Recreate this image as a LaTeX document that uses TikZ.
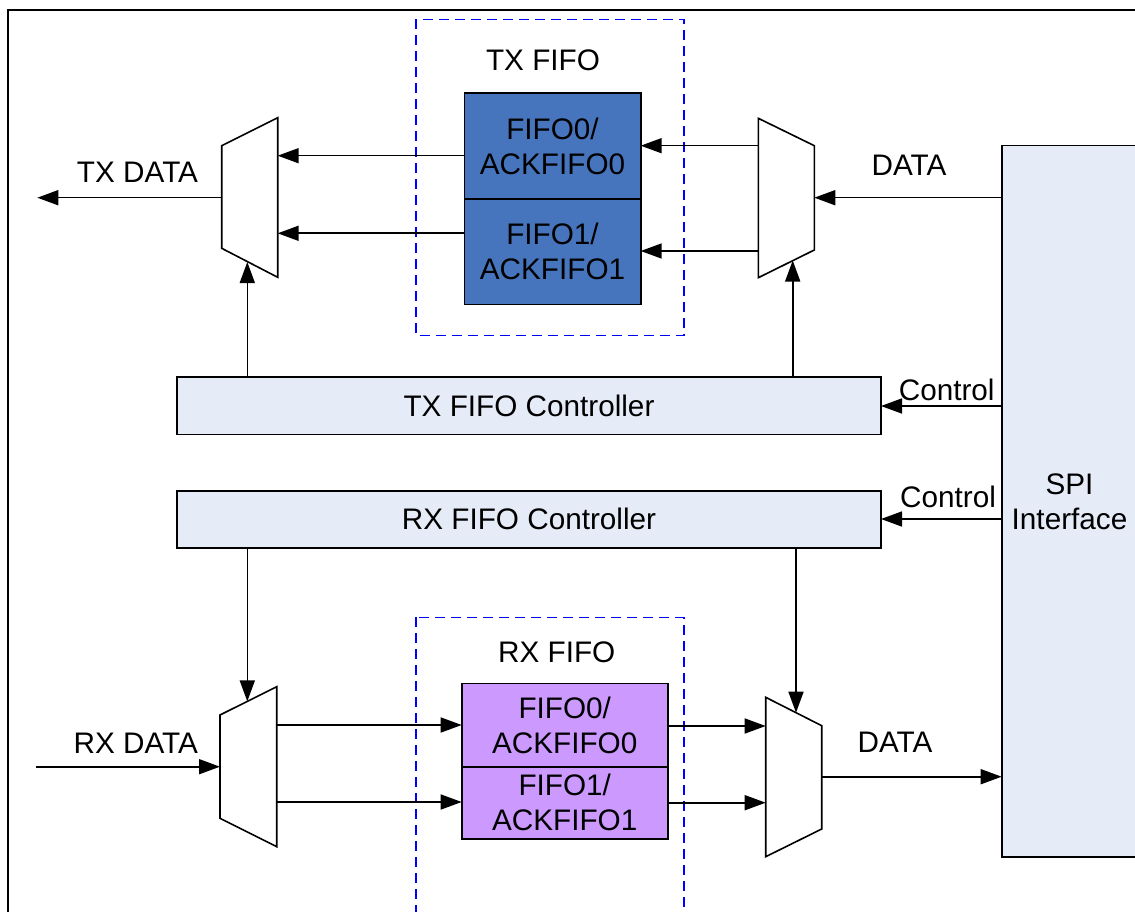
\documentclass[tikz,border=0pt]{standalone}
\usepackage{fontspec}
\setmainfont{Liberation Sans}
\usetikzlibrary{arrows.meta}
\definecolor{fifoblue}{HTML}{4775BD}
\definecolor{fifopurple}{HTML}{CC99FF}
\definecolor{ctrlfill}{HTML}{E6ECF7}
\definecolor{dashblue}{HTML}{0000FF}
\begin{document}
\begin{tikzpicture}[x=1pt,y=-1pt,
  txt/.style={font=\fontsize{29.7}{35}\selectfont, inner sep=0pt, outer sep=0pt},
  arr/.style={line width=1.6pt, -{Triangle[length=21pt,width=15pt]}},
  fifobox/.style={draw, line width=1.6pt, anchor=north west, inner sep=0pt, outer sep=0pt,
    align=center, font=\fontsize{29.7}{35}\selectfont},
  ctrlbox/.style={draw, line width=1.6pt, fill=ctrlfill, anchor=north west, inner sep=0pt,
    outer sep=0pt, minimum width=704pt, font=\fontsize{29.7}{35}\selectfont},
  muxshape/.style={draw, line width=1.6pt, fill=white},
  group/.style={draw=dashblue, line width=1.5pt, dash pattern=on 10pt off 6pt}
]
\useasboundingbox (0,0) rectangle (1135,912);
\clip (0,0) rectangle (1135,912);

% outer frame
\draw[line width=2pt] (7.5,930) -- (7.5,10.5) -- (1150,10.5);

% dashed groups
\draw[group] (416,19.3) rectangle (684,335.7);
\draw[group] (416,617.3) rectangle (684,940);
\node[txt] (txfifolbl) at (543,60) {TX FIFO};
\node[txt] (rxfifolbl) at (556.7,652.5) {RX FIFO};

% FIFO blocks
\node[fifobox, fill=fifoblue, minimum width=176.4pt, minimum height=105.7pt] (tx0) at (464.3,93.3) {FIFO0/\\ACKFIFO0};
\node[fifobox, fill=fifoblue, minimum width=176.4pt, minimum height=105.3pt] (tx1) at (464.3,199) {FIFO1/\\ACKFIFO1};
\node[fifobox, fill=fifopurple, minimum width=206pt, minimum height=83.4pt] (rx0) at (461.7,683.3) {FIFO0/\\ACKFIFO0};
\node[fifobox, fill=fifopurple, minimum width=206pt, minimum height=72.3pt] (rx1) at (461.7,766.7) {FIFO1/\\ACKFIFO1};

% controllers
\node[ctrlbox, minimum height=57.6pt] (txc) at (177,376.7) {TX FIFO Controller};
\node[ctrlbox, minimum height=56.7pt] (rxc) at (177,491) {RX FIFO Controller};

% SPI interface
\node[draw, line width=1.6pt, fill=ctrlfill, anchor=north west, inner sep=0pt, outer sep=0pt,
  minimum width=200pt, minimum height=711pt] (spi) at (1001.7,145.7) {};
\node[txt, align=center] (spilbl) at (1069.5,501.5) {SPI\\Interface};

% muxes
\draw[muxshape] (221.7,145.7) -- (277.7,117.7) -- (277.7,277.3) -- (221.7,248.3) -- cycle;
\draw[muxshape] (758.3,118.3) -- (814.3,145.7) -- (814.3,250) -- (758.3,277.7) -- cycle;
\draw[muxshape] (220,715) -- (276.7,686.7) -- (276.7,846.7) -- (220,818.3) -- cycle;
\draw[muxshape] (765.7,697.3) -- (821.7,725.7) -- (821.7,829) -- (765.7,856.7) -- cycle;

% mux ports
\coordinate (txmLin0) at (277.7,155.7);
\coordinate (txmLin1) at (277.7,233.3);
\coordinate (txmLout) at (221.7,197.7);
\coordinate (txmLsel) at (247.3,262);
\coordinate (txout) at (37.3,197.7);
\coordinate (txmRout0) at (758.3,145.7);
\coordinate (txmRout1) at (758.3,251);
\coordinate (txmRin) at (814.3,197.7);
\coordinate (txmRsel) at (792.7,260.5);
\coordinate (rxmLin) at (220,766.7);
\coordinate (rxin) at (36,766.7);
\coordinate (rxmLout0) at (276.7,725);
\coordinate (rxmLout1) at (276.7,802);
\coordinate (rxmLsel) at (247.3,701.4);
\coordinate (rxmRin0) at (765.7,726);
\coordinate (rxmRin1) at (765.7,802.7);
\coordinate (rxmRout) at (821.7,776.7);
\coordinate (rxmRsel) at (796,712.7);
\coordinate (txctl) at (1001.7,406);
\coordinate (rxctl) at (1001.7,519);

% TX connectors
\draw[arr] (tx0.west |- txmLin0) -- (txmLin0);
\draw[arr] (tx1.west |- txmLin1) -- (txmLin1);
\draw[arr] (txmLout) -- (txout);
\draw[arr] (txc.north -| txmLsel) -- (txmLsel);
\draw[arr] (txmRout0) -- (tx0.east |- txmRout0);
\draw[arr] (txmRout1) -- (tx1.east |- txmRout1);
\draw[arr] (spi.west |- txmRin) -- (txmRin);
\draw[arr] (txc.north -| txmRsel) -- (txmRsel);
\draw[arr] (txctl) -- (txc.east |- txctl);

% RX connectors
\draw[arr] (rxctl) -- (rxc.east |- rxctl);
\draw[arr] (rxc.south -| rxmLsel) -- (rxmLsel);
\draw[arr] (rxc.south -| rxmRsel) -- (rxmRsel);
\draw[arr] (rxin) -- (rxmLin);
\draw[arr] (rxmLout0) -- (rx0.west |- rxmLout0);
\draw[arr] (rxmLout1) -- (rx1.west |- rxmLout1);
\draw[arr] (rx0.east |- rxmRin0) -- (rxmRin0);
\draw[arr] (rx1.east |- rxmRin1) -- (rxmRin1);
\draw[arr] (rxmRout) -- (spi.west |- rxmRout);

% labels
\node[txt] (txdatalbl) at (137.5,172.5) {TX DATA};
\node[txt] (rxdatalbl) at (135.8,743.3) {RX DATA};
\node[txt] (datatxlbl) at (909,165.5) {DATA};
\node[txt] (datarxlbl) at (895,742.5) {DATA};
\node[txt] (ctltxlbl) at (946.7,390) {Control};
\node[txt] (ctlrxlbl) at (948,496.7) {Control};
\end{tikzpicture}
\end{document}
